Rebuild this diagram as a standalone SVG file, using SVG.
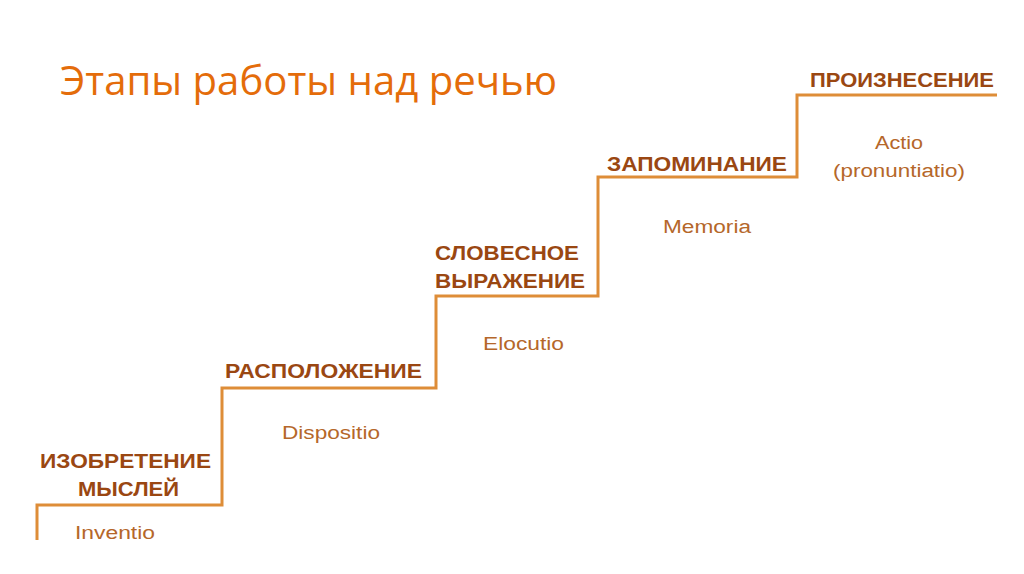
<svg xmlns="http://www.w3.org/2000/svg" width="1024" height="574" viewBox="0 0 1024 574">
<style>
.title{font-family:"Open Sans","Liberation Sans",sans-serif;font-size:41px;fill:#e46c0a}
.cap{font-family:"Liberation Sans",Arial,sans-serif;font-weight:bold;font-size:21px;fill:#9a4712}
.lat{font-family:"Liberation Sans",Arial,sans-serif;font-size:18px;fill:#b5672a}
.stair{fill:none;stroke:#de8d38;stroke-width:3;stroke-linejoin:miter}
</style>
<rect width="1024" height="574" fill="#ffffff"/>
<text class="title" x="60" y="95" textLength="497" lengthAdjust="spacingAndGlyphs">Этапы работы над речью</text>
<g id="connectors">
<path class="stair" d="M37,540 V505 H222 V388 H436 V296 H598 V177 H797 V95 H997"/>
</g>
<g id="step1">
<text class="cap" x="40" y="468" textLength="171" lengthAdjust="spacingAndGlyphs">ИЗОБРЕТЕНИЕ</text>
<text class="cap" x="78" y="496" textLength="101" lengthAdjust="spacingAndGlyphs">МЫСЛЕЙ</text>
<text class="lat" x="75" y="539" textLength="80" lengthAdjust="spacingAndGlyphs">Inventio</text>
</g>
<g id="step2">
<text class="cap" x="225" y="378" textLength="197" lengthAdjust="spacingAndGlyphs">РАСПОЛОЖЕНИЕ</text>
<text class="lat" x="282" y="439" textLength="98" lengthAdjust="spacingAndGlyphs">Dispositio</text>
</g>
<g id="step3">
<text class="cap" x="435" y="260" textLength="144" lengthAdjust="spacingAndGlyphs">СЛОВЕСНОЕ</text>
<text class="cap" x="435" y="288" textLength="150" lengthAdjust="spacingAndGlyphs">ВЫРАЖЕНИЕ</text>
<text class="lat" x="483" y="350" textLength="81" lengthAdjust="spacingAndGlyphs">Elocutio</text>
</g>
<g id="step4">
<text class="cap" x="607" y="171" textLength="180" lengthAdjust="spacingAndGlyphs">ЗАПОМИНАНИЕ</text>
<text class="lat" x="663" y="233" textLength="88" lengthAdjust="spacingAndGlyphs">Memoria</text>
</g>
<g id="step5">
<text class="cap" x="810" y="87" textLength="184" lengthAdjust="spacingAndGlyphs">ПРОИЗНЕСЕНИЕ</text>
<text class="lat" x="875" y="149" textLength="48" lengthAdjust="spacingAndGlyphs">Actio</text>
<text class="lat" x="833" y="177" textLength="132" lengthAdjust="spacingAndGlyphs">(pronuntiatio)</text>
</g>
</svg>
